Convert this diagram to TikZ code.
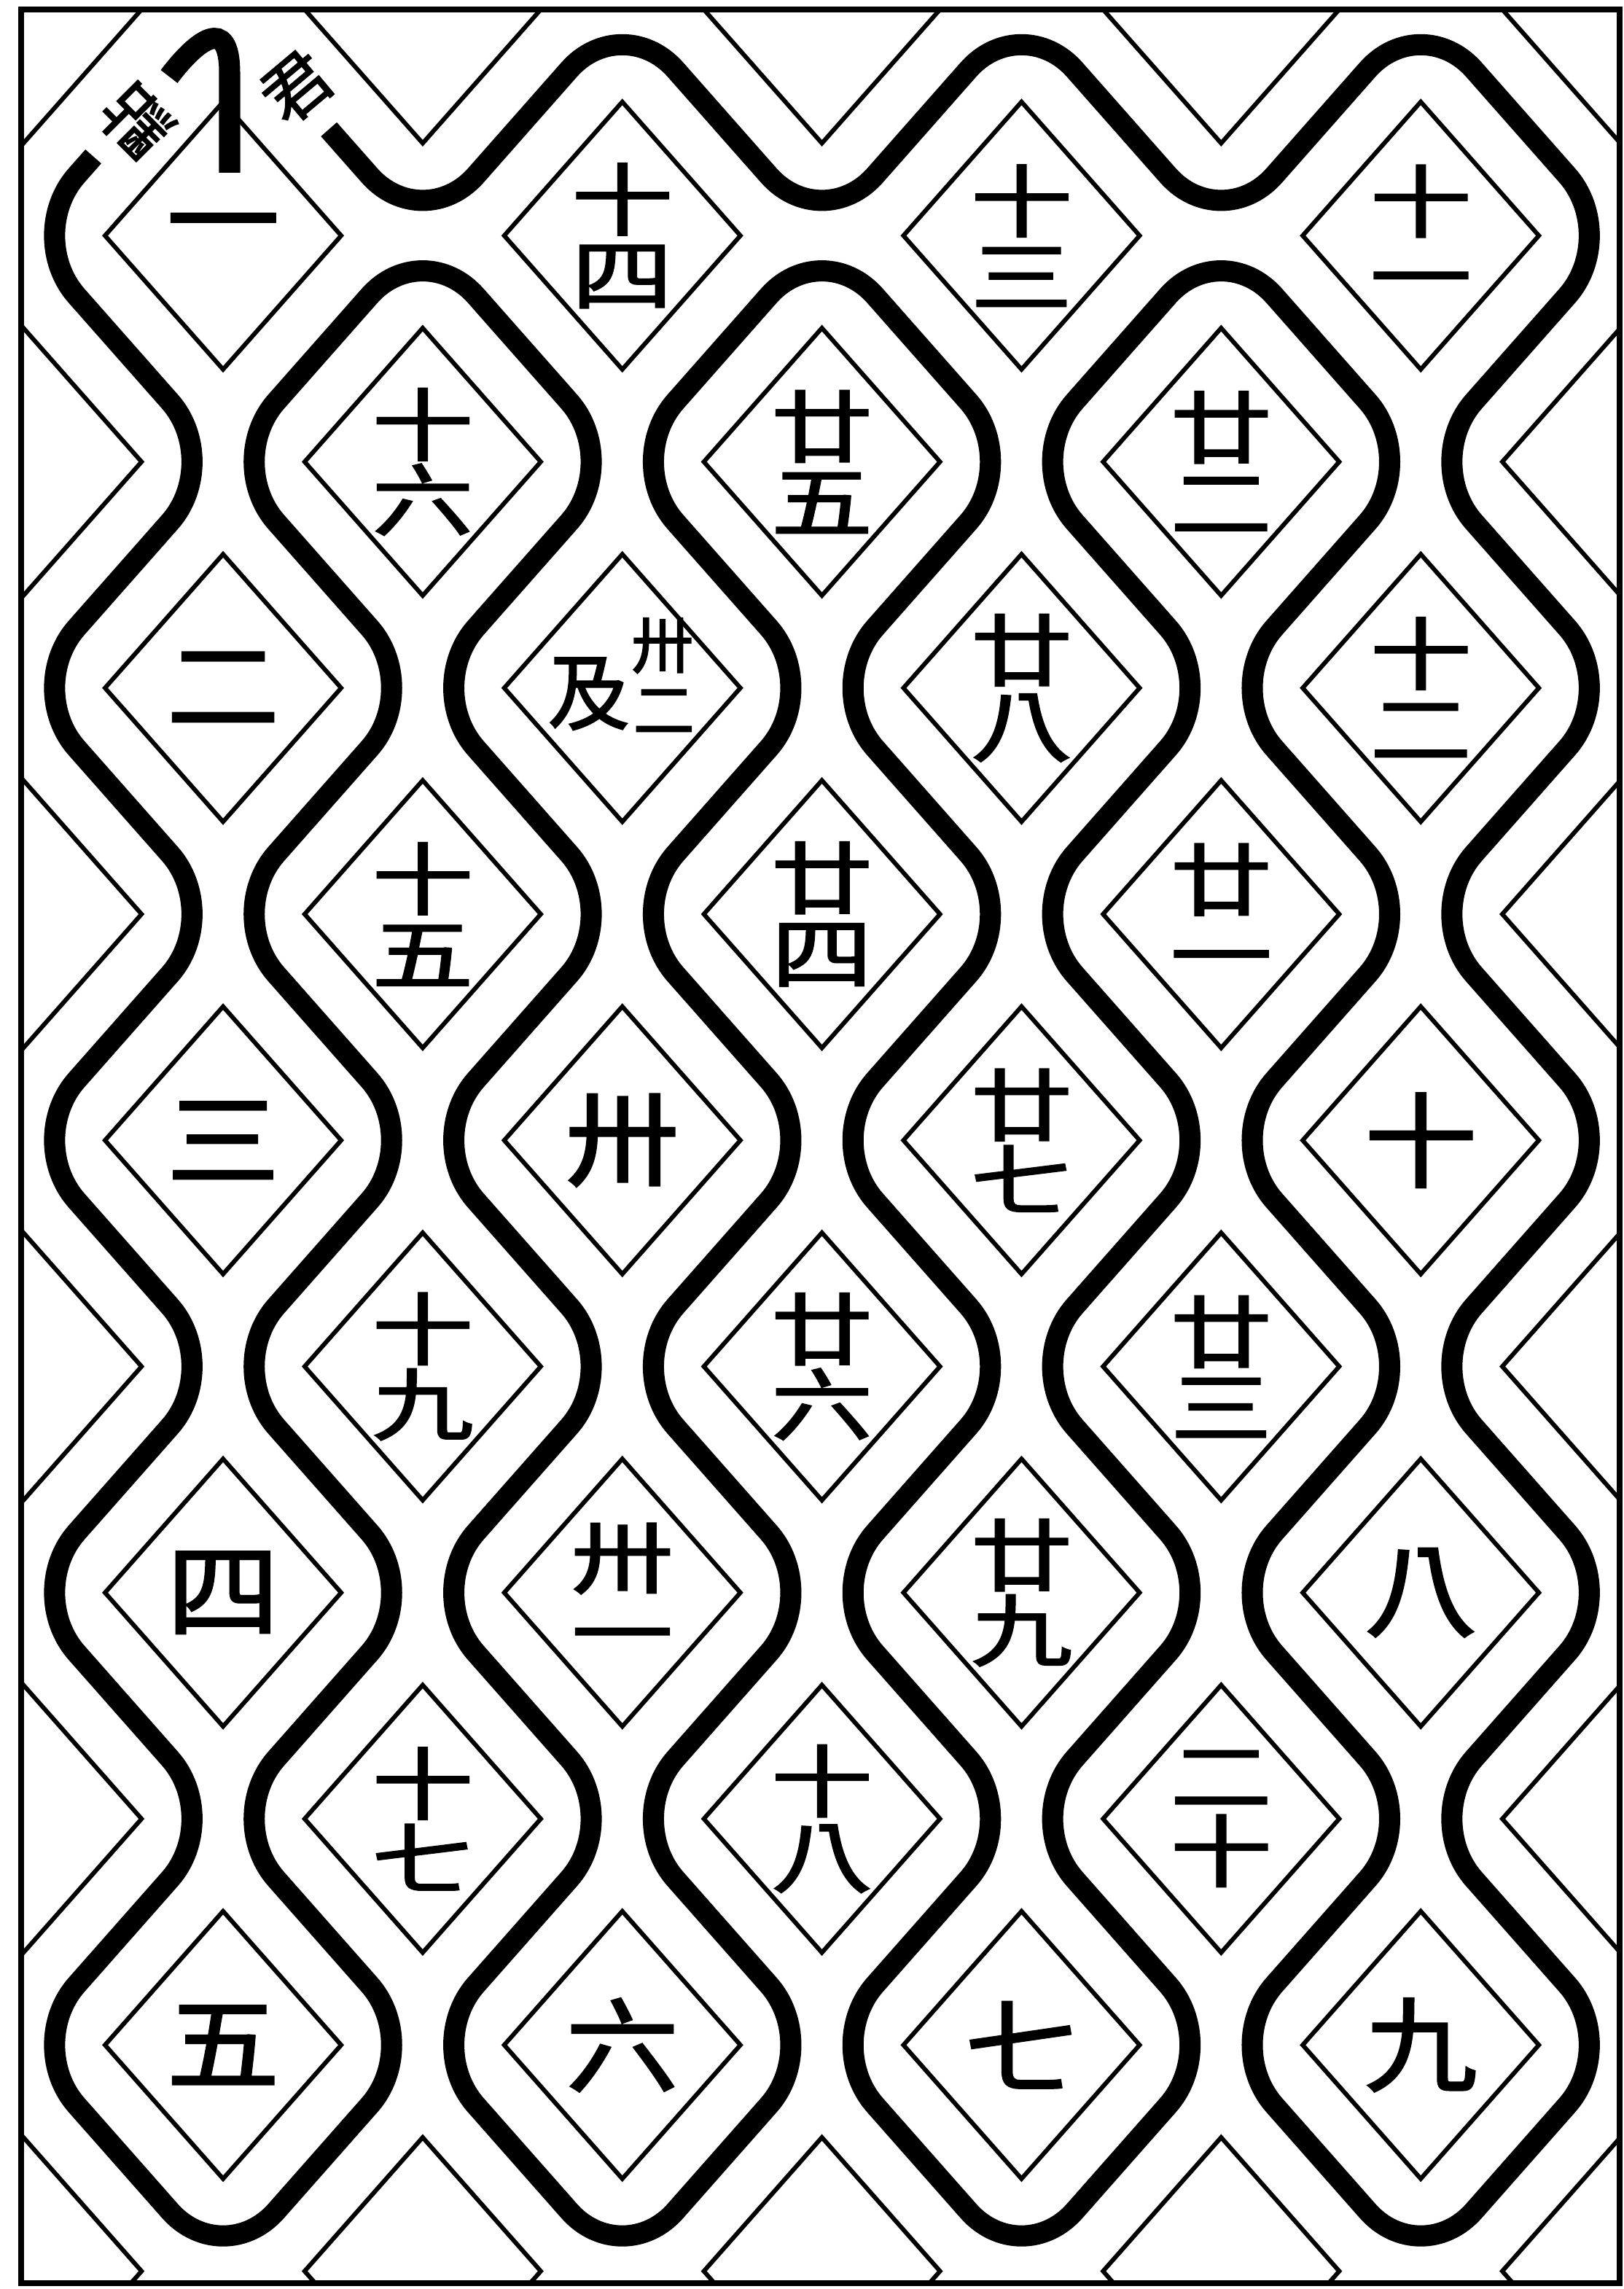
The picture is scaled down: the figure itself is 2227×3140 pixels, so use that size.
\documentclass[tikz,border=0pt]{standalone}
\usepackage{fontspec}
\usetikzlibrary{calc}
\newfontfamily\cjk[FakeBold=2]{Noto Sans CJK TC}
\tikzset{
  thinline/.style={line width=0.06cm, line join=miter},
  wall/.style={line width=0.29cm, rounded corners=1.1cm},
  frameline/.style={line width=0.08cm},
  numA/.style={font=\cjk\fontsize{40}{40}\selectfont, xscale=1.1, inner sep=0pt},
  numB/.style={font=\cjk\fontsize{36}{34.5}\selectfont, xscale=1.1, yscale=0.85, align=center, inner sep=0pt},
  small/.style={font=\cjk\fontsize{24}{24}\selectfont, inner sep=0pt},
  entry/.style={font=\cjk\fontsize{26}{26}\selectfont, inner sep=0pt},
}
\begin{document}
\begin{tikzpicture}[x=0.01cm, y=-0.01cm]
\useasboundingbox (0,0) rectangle (2227,3140);
\fill[white] (0,0) rectangle (2227,3140);
% lattice coordinates
\foreach \i in {0,...,8}{
  \foreach \m in {0,...,10}{
    \pgfmathsetmacro\xx{32.2+273.85*\i}
    \pgfmathsetmacro\yy{13+310.25*\m}
    \pgfmathtruncatemacro\pp{mod(\i+\m,2)}
    \ifnum\pp=1
      \coordinate (J\i-\m) at (\xx,\yy);
    \else
      \coordinate (D\i-\m) at (\xx,\yy);
    \fi
  }
}
% thin diamonds
\begin{scope}
\clip (29,13) rectangle (2222,3132);
\foreach \i in {0,...,8}{
  \foreach \m in {0,...,10}{
    \pgfmathsetmacro\xx{32.2+273.85*\i}
    \pgfmathsetmacro\yy{13+310.25*\m}
    \pgfmathtruncatemacro\pp{mod(\i+\m,2)}
    \ifnum\pp=0
      \draw[thinline] (\xx-162,\yy) -- (\xx,\yy-183.5) -- (\xx+162,\yy) -- (\xx,\yy+183.5) -- cycle;
    \fi
  }
}
\end{scope}
% frame
\draw[frameline] (29,13) rectangle (2222,3132);
% the wall
\coordinate (S) at ($(J0-1)!0.35!(J1-0)$);
\coordinate (E) at ($(J2-1)!0.47!(J1-0)$);
\draw[wall] (S) -- (J0-1) -- (J1-2) -- (J0-3) -- (J1-4) -- (J0-5) -- (J1-6) -- (J0-7) -- (J1-8) -- (J0-9) -- (J1-10)
 -- (J2-9) -- (J1-8) -- (J2-7) -- (J1-6) -- (J2-5) -- (J1-4) -- (J2-3) -- (J1-2) -- (J2-1)
 -- (J3-2) -- (J2-3) -- (J3-4) -- (J2-5) -- (J3-6) -- (J2-7) -- (J3-8) -- (J2-9) -- (J3-10)
 -- (J4-9) -- (J3-8) -- (J4-7) -- (J3-6) -- (J4-5) -- (J3-4) -- (J4-3) -- (J3-2) -- (J4-1)
 -- (J5-2) -- (J4-3) -- (J5-4) -- (J4-5) -- (J5-6) -- (J4-7) -- (J5-8) -- (J4-9) -- (J5-10)
 -- (J6-9) -- (J5-8) -- (J6-7) -- (J5-6) -- (J6-5) -- (J5-4) -- (J6-3) -- (J5-2) -- (J6-1)
 -- (J7-2) -- (J6-3) -- (J7-4) -- (J6-5) -- (J7-6) -- (J6-7) -- (J7-8) -- (J6-9) -- (J7-10)
 -- (J8-9) -- (J7-8) -- (J8-7) -- (J7-6) -- (J8-5) -- (J7-4) -- (J8-3) -- (J7-2) -- (J8-1)
 -- (J7-0) -- (J6-1) -- (J5-0) -- (J4-1) -- (J3-0) -- (J2-1) -- (E);
% start hook
\draw[line width=0.29cm] (232,105) .. controls (270,55) and (315,20) .. (315,100) -- (315,237);
% entrance text
\node[entry, rotate=135] (dian) at (187,167) {點};
\node[entry, rotate=40] (jun) at (407,120) {君};
% numbers, main diamonds
\node[numA] (n1) at (D1-1) {一};
\node[numA] (n2) at (D1-3) {二};
\node[numA] (n3) at (D1-5) {三};
\node[numA] (n4) at (D1-7) {四};
\node[numA] (n5) at (D1-9) {五};
\node[numB] (n14) at (D3-1) {十\\四};
\node[font=\cjk\fontsize{32}{32}\selectfont, inner sep=0pt] (ji) at ($(D3-3)+(-46,8)$) {及};
\node[small] (sa32) at ($(D3-3)+(55,-58)$) {卅};
\node[small] (er32) at ($(D3-3)+(57,32)$) {二};
\node[numA] (n30) at (D3-5) {卅};
\node[numB] (n31) at (D3-7) {卅\\一};
\node[numA] (n6) at (D3-9) {六};
\node[numB] (n13) at (D5-1) {十\\三};
\node[numB] (n28) at (D5-3) {廿\\八};
\node[numB] (n27) at (D5-5) {廿\\七};
\node[numB] (n29) at (D5-7) {廿\\九};
\node[numA] (n7) at (D5-9) {七};
\node[numB] (n11) at (D7-1) {十\\一};
\node[numB] (n12) at (D7-3) {十\\二};
\node[numA] (n10) at (D7-5) {十};
\node[numA] (n8) at (D7-7) {八};
\node[numA] (n9) at (D7-9) {九};
% numbers, offset diamonds
\node[numB] (n16) at (D2-2) {十\\六};
\node[numB] (n15) at (D2-4) {十\\五};
\node[numB] (n19) at (D2-6) {十\\九};
\node[numB] (n17) at (D2-8) {十\\七};
\node[numB] (n25) at (D4-2) {廿\\五};
\node[numB] (n24) at (D4-4) {廿\\四};
\node[numB] (n26) at (D4-6) {廿\\六};
\node[numB] (n18) at (D4-8) {十\\八};
\node[numB] (n22) at (D6-2) {廿\\二};
\node[numB] (n21) at (D6-4) {廿\\一};
\node[numB] (n23) at (D6-6) {廿\\三};
\node[numB] (n20) at (D6-8) {二\\十};
\end{tikzpicture}
\end{document}
